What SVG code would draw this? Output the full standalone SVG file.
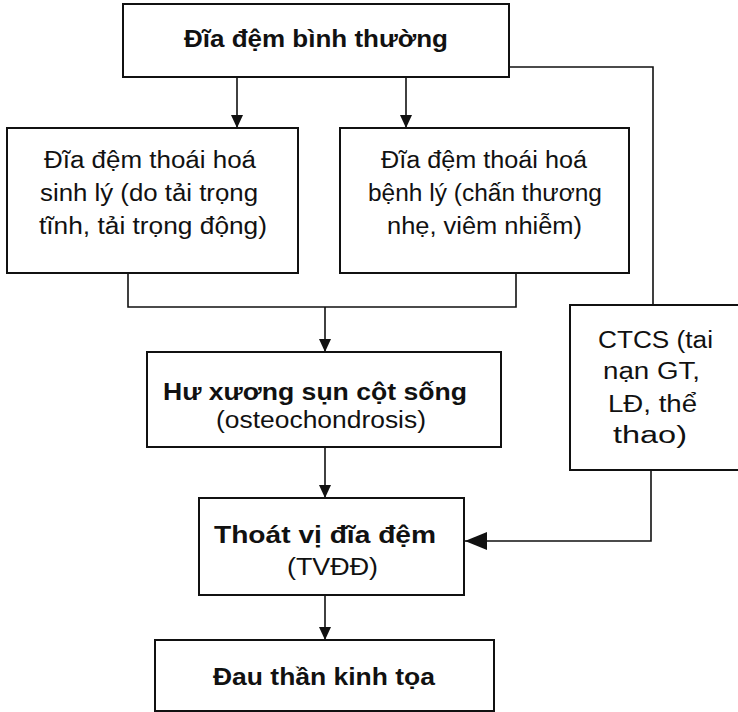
<svg xmlns="http://www.w3.org/2000/svg" width="738" height="712" viewBox="0 0 738 712">
<style>
.box{fill:#fff;stroke:#111;stroke-width:2}
.ln{fill:none;stroke:#111;stroke-width:1.6}
.t{font-family:"Liberation Sans",Arial,sans-serif;font-size:23px;fill:#111}
.b{font-weight:bold;font-size:23px}
</style>
<defs>
<marker id="ah" markerUnits="userSpaceOnUse" markerWidth="13" markerHeight="12" refX="13" refY="6" orient="auto"><path d="M0,0 L13,6 L0,12 z" fill="#111"/></marker>
<marker id="ahb" markerUnits="userSpaceOnUse" markerWidth="22" markerHeight="18" refX="22" refY="9" orient="auto"><path d="M0,0 L22,9 L0,18 z" fill="#111"/></marker>
</defs>
<rect width="738" height="712" fill="#fff"/>
<g id="connectors">
<path class="ln" d="M509,67 H653 V305"/>
<path class="ln" d="M237,77 V128" marker-end="url(#ah)"/>
<path class="ln" d="M406,77 V128" marker-end="url(#ah)"/>
<path class="ln" d="M128,273 V307 H516 V273"/>
<path class="ln" d="M325,307 V352" marker-end="url(#ah)"/>
<path class="ln" d="M325,447 V498" marker-end="url(#ah)"/>
<path class="ln" d="M651,470 V541 H465" marker-end="url(#ahb)"/>
<path class="ln" d="M325,595 V640" marker-end="url(#ah)"/>
</g>
<g id="n1"><rect class="box" x="123" y="4" width="386" height="73"/>
<text class="t b" x="184" y="47" textLength="264" lengthAdjust="spacingAndGlyphs">Đĩa đệm bình thường</text></g>
<g id="n2"><rect class="box" x="7" y="128" width="291" height="145"/>
<text class="t" x="44" y="168" textLength="212" lengthAdjust="spacingAndGlyphs">Đĩa đệm thoái hoá</text>
<text class="t" x="40" y="201" textLength="218" lengthAdjust="spacingAndGlyphs">sinh lý (do tải trọng</text>
<text class="t" x="39" y="234" textLength="228" lengthAdjust="spacingAndGlyphs">tĩnh, tải trọng động)</text></g>
<g id="n3"><rect class="box" x="340" y="128" width="289" height="145"/>
<text class="t" x="381" y="168" textLength="206" lengthAdjust="spacingAndGlyphs">Đĩa đệm thoái hoá</text>
<text class="t" x="368" y="201" textLength="234" lengthAdjust="spacingAndGlyphs">bệnh lý (chấn thương</text>
<text class="t" x="387" y="234" textLength="195" lengthAdjust="spacingAndGlyphs">nhẹ, viêm nhiễm)</text></g>
<g id="n4"><rect class="box" x="147" y="352" width="354" height="95"/>
<text class="t b" x="163" y="400" textLength="304" lengthAdjust="spacingAndGlyphs">Hư xương sụn cột sống</text>
<text class="t" x="216" y="428" textLength="210" lengthAdjust="spacingAndGlyphs">(osteochondrosis)</text></g>
<g id="n5"><rect class="box" x="570" y="305" width="175" height="165"/>
<text class="t" x="598" y="348" textLength="115" lengthAdjust="spacingAndGlyphs">CTCS (tai</text>
<text class="t" x="603" y="379" textLength="97" lengthAdjust="spacingAndGlyphs">nạn GT,</text>
<text class="t" x="608" y="412" textLength="89" lengthAdjust="spacingAndGlyphs">LĐ, thể</text>
<text class="t" x="613" y="443" textLength="74" lengthAdjust="spacingAndGlyphs">thao)</text></g>
<g id="n6"><rect class="box" x="199" y="498" width="265" height="97"/>
<text class="t b" x="214" y="543" textLength="222" lengthAdjust="spacingAndGlyphs">Thoát vị đĩa đệm</text>
<text class="t" x="287" y="575" textLength="91" lengthAdjust="spacingAndGlyphs">(TVĐĐ)</text></g>
<g id="n7"><rect class="box" x="155" y="640" width="339" height="71"/>
<text class="t b" x="213" y="685" textLength="222" lengthAdjust="spacingAndGlyphs">Đau thần kinh tọa</text></g>
</svg>
